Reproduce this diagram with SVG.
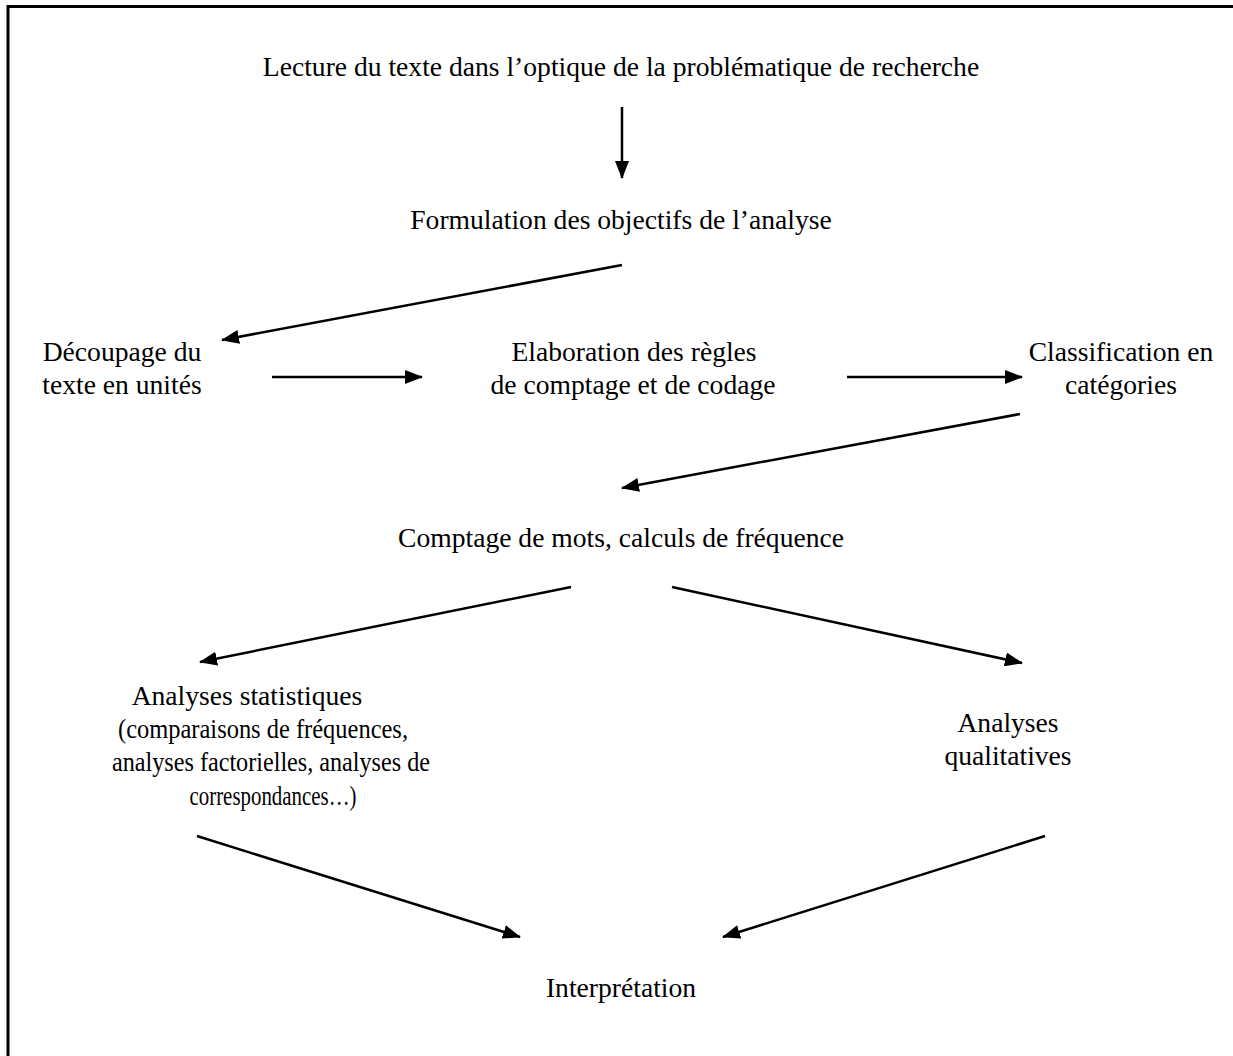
<svg xmlns="http://www.w3.org/2000/svg" width="1233" height="1056" viewBox="0 0 1233 1056">
<style>
text{font-family:"Liberation Serif","Times New Roman",serif;font-size:27.6px;fill:#000;text-anchor:middle}
.l{stroke:#000;stroke-width:2.5;fill:none}
</style>
<defs>
<marker id="ah" markerUnits="userSpaceOnUse" markerWidth="18" markerHeight="14" viewBox="0 0 18 14" refX="17" refY="7" orient="auto">
<path d="M0,0 L18,7 L0,14 Z" fill="#000"/>
</marker>
</defs>
<rect width="1233" height="1056" fill="#fff"/>
<path d="M8,1056 V6.5 H1233" stroke="#000" stroke-width="3" fill="none"/>
<g id="n1"><text x="621" y="76">Lecture du texte dans l’optique de la problématique de recherche</text></g>
<g id="n2"><text x="621" y="229">Formulation des objectifs de l’analyse</text></g>
<g id="n3"><text x="122" y="361">Découpage du</text><text x="122" y="394">texte en unités</text></g>
<g id="n4"><text x="634" y="361">Elaboration des règles</text><text x="633" y="394">de comptage et de codage</text></g>
<g id="n5"><text x="1121" y="361">Classification en</text><text x="1121" y="394">catégories</text></g>
<g id="n6"><text x="621" y="547">Comptage de mots, calculs de fréquence</text></g>
<g id="n7"><text x="247" y="705">Analyses statistiques</text><text x="263" y="738" textLength="290" lengthAdjust="spacingAndGlyphs">(comparaisons de fréquences,</text><text x="271" y="771" textLength="318" lengthAdjust="spacingAndGlyphs">analyses factorielles, analyses de</text><text x="273" y="805" textLength="167" lengthAdjust="spacingAndGlyphs">correspondances…)</text></g>
<g id="n8"><text x="1008" y="732">Analyses</text><text x="1008" y="765">qualitatives</text></g>
<g id="n9"><text x="621" y="997">Interprétation</text></g>
<g id="connectors">
<line class="l" x1="622" y1="107" x2="622" y2="178" marker-end="url(#ah)"/>
<line class="l" x1="622" y1="265" x2="222" y2="340" marker-end="url(#ah)"/>
<line class="l" x1="272" y1="377" x2="422" y2="377" marker-end="url(#ah)"/>
<line class="l" x1="847" y1="377" x2="1022" y2="377" marker-end="url(#ah)"/>
<line class="l" x1="1020" y1="414" x2="622" y2="488" marker-end="url(#ah)"/>
<line class="l" x1="571" y1="587" x2="200" y2="662" marker-end="url(#ah)"/>
<line class="l" x1="672" y1="587" x2="1022" y2="663" marker-end="url(#ah)"/>
<line class="l" x1="197" y1="836" x2="520" y2="937" marker-end="url(#ah)"/>
<line class="l" x1="1045" y1="836" x2="723" y2="937" marker-end="url(#ah)"/>
</g>
</svg>
